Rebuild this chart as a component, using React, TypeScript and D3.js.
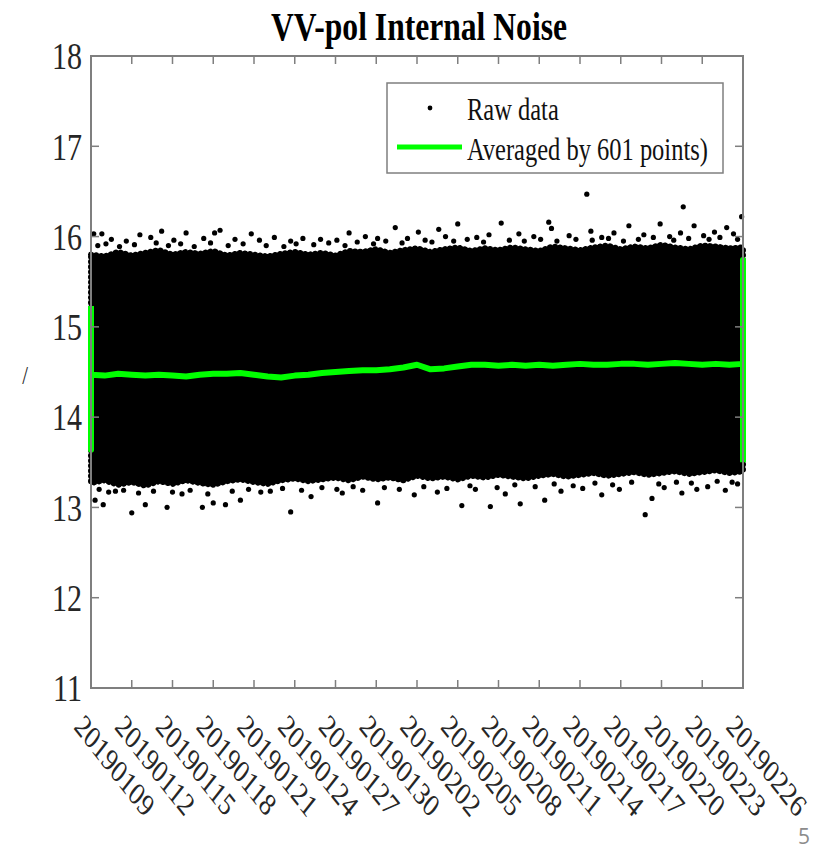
import React from 'react';
import * as d3 from 'd3';

// x tick labels (every 3 days)
const tickLabels = [
  '20190109', '20190112', '20190115', '20190118', '20190121', '20190124',
  '20190127', '20190130', '20190202', '20190205', '20190208', '20190211',
  '20190214', '20190217', '20190220', '20190223', '20190226',
];
const yTicks = [11, 12, 13, 14, 15, 16, 17, 18];

// dense raw data band, one value per day from 20190109
const bandUpper = [
  15.80, 15.78, 15.83, 15.79, 15.82, 15.85, 15.80, 15.83, 15.81, 15.84, 15.79, 15.82,
  15.80, 15.78, 15.81, 15.83, 15.80, 15.82, 15.79, 15.84, 15.83, 15.86, 15.82, 15.85,
  15.87, 15.83, 15.86, 15.88, 15.84, 15.87, 15.85, 15.88, 15.86, 15.84, 15.89, 15.87,
  15.85, 15.88, 15.90, 15.86, 15.89, 15.87, 15.91, 15.88, 15.86, 15.90, 15.89, 15.87, 15.88,
];
const bandLower = [
  13.27, 13.30, 13.25, 13.28, 13.24, 13.29, 13.26, 13.30, 13.27, 13.25, 13.29, 13.31,
  13.28, 13.26, 13.30, 13.32, 13.29, 13.31, 13.33, 13.30, 13.34, 13.31, 13.33, 13.30,
  13.35, 13.32, 13.34, 13.31, 13.35, 13.33, 13.36, 13.34, 13.32, 13.35, 13.37, 13.34,
  13.36, 13.38, 13.35, 13.37, 13.39, 13.36, 13.38, 13.40, 13.37, 13.39, 13.41, 13.38, 13.40,
];

// raw points outside the band: [days since 20190109, value]
const rawHigh = [
  [0.2, 16.03], [0.8, 16.03], [1.5, 15.97], [2.6, 15.95], [3.6, 16.02], [4.4, 15.99],
  [5.2, 16.06], [6.1, 15.96], [7.0, 16.04], [8.3, 15.98], [9.1, 16.04], [9.5, 16.07],
  [10.6, 15.97], [11.8, 16.03], [12.4, 15.96], [13.5, 15.99], [14.7, 15.95], [15.6, 15.98],
  [16.9, 15.97], [18.1, 15.96], [19.0, 16.04], [20.2, 16.0], [21.1, 15.98], [22.4, 16.10],
  [23.3, 15.98], [24.1, 16.05], [25.6, 16.08], [26.1, 16.0], [27.0, 16.14], [28.4, 15.99],
  [29.3, 16.02], [30.2, 16.15], [31.5, 16.03], [32.6, 16.0], [33.7, 16.16], [33.9, 16.09],
  [35.2, 16.01], [36.5, 16.47], [36.8, 16.06], [37.6, 15.99], [38.5, 16.04], [39.6, 16.12],
  [40.7, 16.02], [41.9, 16.14], [42.6, 16.0], [43.4, 16.04], [43.6, 16.33], [44.4, 16.12],
  [45.1, 16.01], [45.9, 16.05], [46.8, 16.10], [47.3, 16.03], [47.9, 16.22],
  [0.5, 15.90], [1.1, 15.92], [2.1, 15.89], [3.2, 15.91], [4.8, 15.93], [5.7, 15.90],
  [6.6, 15.92], [7.6, 15.89], [8.8, 15.93], [10.1, 15.90], [11.2, 15.92], [12.9, 15.90],
  [14.2, 15.89], [15.1, 15.92], [16.4, 15.91], [17.5, 15.93], [18.7, 15.90], [19.6, 15.94],
  [20.8, 15.92], [21.7, 15.95], [22.9, 15.93], [24.6, 15.96], [25.1, 15.94], [26.7, 15.95],
  [27.7, 15.97], [28.9, 15.94], [30.8, 15.96], [31.9, 15.95], [33.1, 15.97], [34.3, 15.95],
  [35.7, 15.97], [36.9, 15.96], [38.1, 15.98], [39.2, 15.95], [40.3, 15.97], [41.4, 15.99],
  [42.9, 15.96], [44.0, 15.98], [45.5, 15.97], [46.3, 15.99], [47.6, 15.97],
];
const rawLow = [
  [0.3, 13.08], [0.9, 13.03], [1.8, 13.18], [3.0, 12.94], [4.0, 13.03], [5.6, 13.00],
  [6.7, 13.15], [8.2, 13.00], [9.0, 13.05], [9.9, 13.03], [11.0, 13.08], [12.5, 13.17],
  [14.7, 12.95], [16.2, 13.12], [18.5, 13.16], [20.0, 13.19], [21.1, 13.05], [23.8, 13.14],
  [25.5, 13.17], [27.3, 13.02], [28.3, 13.20], [29.4, 13.01], [30.5, 13.15], [31.6, 13.04],
  [33.4, 13.08], [34.6, 13.18], [36.2, 13.21], [37.6, 13.14], [38.9, 13.20], [40.8, 12.92],
  [41.3, 13.10], [42.2, 13.22], [43.5, 13.16], [44.6, 13.20], [45.4, 13.23], [46.7, 13.19],
  [47.6, 13.26],
  [0.6, 13.20], [1.3, 13.17], [2.4, 13.19], [3.5, 13.16], [4.6, 13.18], [6.0, 13.17],
  [7.3, 13.19], [8.6, 13.15], [10.4, 13.18], [11.6, 13.20], [13.2, 13.18], [14.1, 13.21],
  [15.5, 13.19], [17.0, 13.22], [18.1, 13.20], [19.3, 13.23], [21.6, 13.22], [22.7, 13.20],
  [24.5, 13.23], [26.2, 13.21], [27.9, 13.24], [29.9, 13.22], [31.2, 13.25], [32.7, 13.23],
  [34.1, 13.26], [35.5, 13.24], [37.1, 13.27], [38.4, 13.25], [39.8, 13.28], [41.8, 13.26],
  [43.1, 13.28], [44.2, 13.27], [46.1, 13.29], [47.2, 13.28],
];

// 601-point moving average, one value per day
const avgValues = [
  14.47, 14.46, 14.48, 14.47, 14.46, 14.47, 14.46, 14.45, 14.47, 14.48, 14.48, 14.49,
  14.47, 14.45, 14.44, 14.46, 14.47, 14.49, 14.50, 14.51, 14.52, 14.52, 14.53, 14.55,
  14.58, 14.53, 14.54, 14.56, 14.58, 14.58, 14.57, 14.58, 14.57, 14.58, 14.57, 14.58,
  14.59, 14.58, 14.58, 14.59, 14.59, 14.58, 14.59, 14.60, 14.59, 14.58, 14.59, 14.58, 14.59,
];
const avgStartSpan = [15.23, 13.64];
const avgEndSpan = [15.74, 13.50];

const W = 821, H = 853;
const L = 91, R = 743, T = 56, B = 688;
const SX = 0.79; // the slide is squeezed sideways
const serif = '"Liberation Serif", "Times New Roman", serif';

const parse = d3.timeParse('%Y%m%d');
const t0 = parse(tickLabels[0]);
const dayDate = (d) => new Date(t0.getTime() + d * 864e5);

const x = d3.scaleTime()
  .domain([t0, parse(tickLabels[tickLabels.length - 1])])
  .range([L, R]);
const y = d3.scaleLinear().domain([11, 18]).range([B, T]);

const band = d3.area()
  .x((d, i) => x(dayDate(i)))
  .y0((d, i) => y(bandLower[i]))
  .y1((d, i) => y(bandUpper[i]));

const avgPts = [
  ...avgStartSpan.map((v) => [0, v]),
  ...avgValues.map((v, i) => [i, v]),
  ...avgEndSpan.map((v) => [avgValues.length - 1, v]),
];
const avgLine = d3.line()
  .x((d) => x(dayDate(d[0])))
  .y((d) => y(d[1]));

const sq = (px, py) => `translate(${px},${py}) scale(${SX},1)`;

export default function App() {
  const axisColor = '#7f7f7f';
  return (
    <svg width={W} height={H} style={{ position: 'absolute', left: 0, top: 0, background: '#fff' }}>
      <text transform={sq(419, 40)} textAnchor="middle" fontFamily={serif} fontWeight="bold" fontSize={40}>
        VV-pol Internal Noise
      </text>

      {/* raw data */}
      <path d={band(bandUpper)} fill="#000" stroke="#000" strokeWidth={6}
        strokeDasharray="0.1 5" strokeLinecap="round" />
      {[...rawHigh, ...rawLow].map((p, i) => (
        <circle key={i} cx={x(dayDate(p[0]))} cy={y(p[1])} r={2.6} fill="#000" />
      ))}

      {/* moving average */}
      <path d={avgLine(avgPts)} fill="none" stroke="#00ff00" strokeWidth={6} strokeLinejoin="round" />

      {/* axes box and ticks */}
      <rect x={L} y={T} width={R - L} height={B - T} fill="none" stroke={axisColor} strokeWidth={2} />
      {tickLabels.map((s) => {
        const tx = x(parse(s));
        return (
          <g key={s}>
            <line x1={tx} x2={tx} y1={B} y2={B - 8} stroke={axisColor} strokeWidth={1.5} />
            <line x1={tx} x2={tx} y1={T} y2={T + 8} stroke={axisColor} strokeWidth={1.5} />
            <text transform={`${sq(tx - 18, 728)} rotate(45)`} fontFamily={serif} fontSize={32} fill="#262626">
              {s}
            </text>
          </g>
        );
      })}
      {yTicks.map((v) => (
        <g key={v}>
          <line x1={L} x2={L + 8} y1={y(v)} y2={y(v)} stroke={axisColor} strokeWidth={1.5} />
          <line x1={R} x2={R - 8} y1={y(v)} y2={y(v)} stroke={axisColor} strokeWidth={1.5} />
          <text transform={sq(82, y(v))} textAnchor="end" dominantBaseline="central"
            fontFamily={serif} fontSize={38} fill="#262626">
            {v}
          </text>
        </g>
      ))}
      <text transform={sq(25, 384)} textAnchor="middle" fontFamily={serif} fontSize={26} fill="#262626">/</text>

      {/* legend */}
      <rect x={387} y={83} width={336} height={90} fill="#fff" stroke={axisColor} strokeWidth={1.5} />
      <circle cx={430} cy={108} r={2.4} fill="#000" />
      <text transform={sq(467, 120)} fontFamily={serif} fontSize={31} fill="#111">Raw data</text>
      <line x1={397} x2={462} y1={147} y2={147} stroke="#00ff00" strokeWidth={5} />
      <text transform={sq(467, 160)} fontFamily={serif} fontSize={31} fill="#111">Averaged by 601 points)</text>

      <text x={810} y={844} textAnchor="end" fontFamily='"Open Sans", sans-serif' fontSize={21} fill="#8c8c8c">5</text>
    </svg>
  );
}
